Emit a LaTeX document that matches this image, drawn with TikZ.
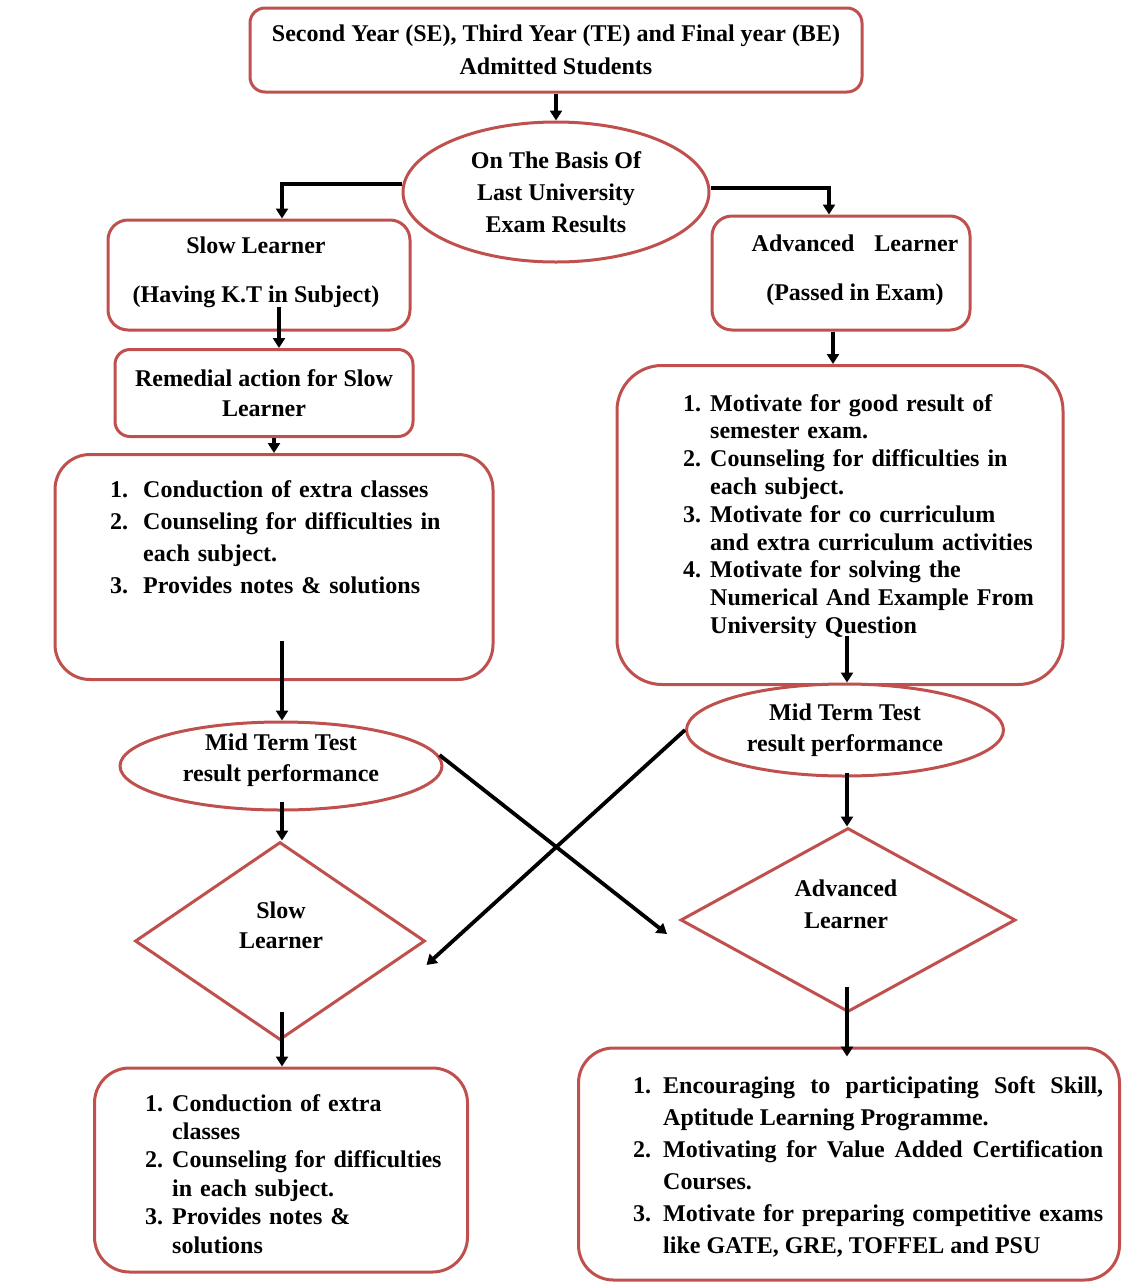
\documentclass[tikz,border=0pt]{standalone}
\usepackage{fontspec}
\setmainfont{Liberation Serif}
\usetikzlibrary{shapes.geometric,arrows.meta,calc}
\definecolor{bord}{RGB}{192,80,77}
\newcommand{\li}[3][30pt]{\par\noindent\hangindent=#1\hangafter=1\makebox[#1][l]{#2}#3\par}
\begin{document}
\begin{tikzpicture}[x=1pt,y=-1pt,
  box/.style={draw=bord, line width=3pt, rounded corners=#1, inner sep=0pt, fill=white},
  box/.default=15pt,
  ell/.style={ellipse, draw=bord, line width=3pt, inner sep=0pt, fill=white},
  dia/.style={diamond, draw=bord, line width=3pt, inner sep=0pt, fill=white},
  txt/.style={font=\fontsize{24}{32}\selectfont\bfseries, align=center, inner sep=0pt},
  lst/.style={font=\fontsize{24}{32}\selectfont\bfseries, align=left, inner sep=0pt, anchor=west},
  arr/.style={-{Triangle[length=10pt,width=12pt]}, line width=3.8pt, black}]
\useasboundingbox (0,0) rectangle (1122,1286);
\fill[white] (0,0) rectangle (1122,1286);
% column coordinates for connectors
\coordinate (cA) at (282,0);
\coordinate (cB) at (829,0);
\coordinate (cC) at (279,0);
\coordinate (cD) at (274,0);
\coordinate (cE) at (833,0);
\coordinate (cF) at (847,0);
% nodes
\node[box=15pt, minimum width=612pt, minimum height=84pt, txt, font=\fontsize{24}{33}\selectfont\bfseries] (top) at (556,50)
  {Second Year (SE), Third Year (TE) and Final year (BE)\\Admitted Students};
\node[ell, minimum width=306pt, minimum height=140pt, txt] (basis) at (556,192)
  {On The Basis Of\\Last University\\Exam Results};
\node[box=20pt, minimum width=302pt, minimum height=110pt] (slow) at (259,275) {};
\node[txt] (slowt) at (256,272) {Slow Learner\\[17pt](Having K.T in Subject)};
\node[box=20pt, minimum width=258pt, minimum height=114pt] (adv) at (841,273) {};
\node[txt] (advt) at (855,270) {Advanced\hspace{20pt}Learner\\[17pt](Passed in Exam)};
\node[box=15pt, minimum width=298pt, minimum height=87pt, txt, font=\fontsize{24}{30}\selectfont\bfseries] (rem) at (264,393)
  {Remedial action for Slow\\Learner};
\node[box=35pt, minimum width=438pt, minimum height=225pt] (llist) at (274,567) {};
\node[lst, text width=360pt] (llistt) at (110,530)
  {\li[33pt]{1.}{Conduction of extra classes}\li[33pt]{2.}{Counseling for difficulties in\linebreak each subject.}\li[33pt]{3.}{Provides notes \& solutions}};
\node[box=45pt, minimum width=446pt, minimum height=319pt] (rlist) at (840,525) {};
\node[lst, text width=400pt, font=\fontsize{24}{27.8}\selectfont\bfseries] (rlistt) at (683,511)
  {\li[27pt]{1.}{Motivate for good result of\linebreak semester exam.}\li[27pt]{2.}{Counseling for difficulties in\linebreak each subject.}\li[27pt]{3.}{Motivate for co curriculum\linebreak and extra curriculum activities}\li[27pt]{4.}{Motivate for solving the\linebreak Numerical And Example From\linebreak University Question}};
\node[ell, minimum width=322pt, minimum height=88pt] (lell) at (281,766) {};
\node[txt, font=\fontsize{24}{31}\selectfont\bfseries] (lellt) at (281,760) {Mid Term Test\\result performance};
\node[ell, minimum width=317pt, minimum height=92pt, txt, font=\fontsize{24}{31}\selectfont\bfseries] (rell) at (845,730)
  {Mid Term Test\\result performance};
\node[dia, minimum width=290pt, minimum height=198pt] (ldia) at (280,941) {};
\node[txt, font=\fontsize{24}{30}\selectfont\bfseries] (ldiat) at (281,925) {Slow\\Learner};
\node[dia, minimum width=335pt, minimum height=184pt] (rdia) at (848,920) {};
\node[txt, font=\fontsize{24}{32}\selectfont\bfseries] (rdiat) at (846,904) {Advanced\\Learner};
\node[box=35pt, minimum width=373pt, minimum height=204pt] (lbot) at (281,1170) {};
\node[lst, text width=320pt, font=\fontsize{24}{28.4}\selectfont\bfseries] (lbott) at (145,1168)
  {\li[27pt]{1.}{Conduction of extra\linebreak classes}\li[27pt]{2.}{Counseling for difficulties\linebreak in each subject.}\li[27pt]{3.}{Provides notes \&\linebreak solutions}};
\node[box=35pt, minimum width=541pt, minimum height=232pt] (rbot) at (849,1164) {};
\node[lst, align=justify, text width=470pt] (rbott) at (633,1159)
  {\li{1.}{Encouraging to participating Soft Skill,\linebreak Aptitude Learning Programme.}\li{2.}{Motivating for Value Added Certification\linebreak Courses.}\li{3.}{Motivate for preparing competitive exams\linebreak like GATE, GRE, TOFFEL and PSU}};
% connectors
\draw[arr] (top.south) -- (basis.north);
\draw[arr] ($(basis.west)+(0,-8)$) -| (slow.north -| cA);
\draw[arr] ($(basis.east)+(0,-4)$) -| (adv.north -| cB);
\draw[arr] ($(slow.south -| cC)+(0,-25)$) -- (rem.north -| cC);
\draw[arr] (rem.south -| cD) -- (llist.north -| cD);
\draw[arr] ($(llist.south -| cA)+(0,-40)$) -- (lell.north -| cA);
\draw[arr] ($(lell.south -| cA)+(0,-10)$) -- (ldia.north -| cA);
\draw[arr] ($(ldia.south -| cA)+(0,-30)$) -- (lbot.north -| cA);
\draw[arr] (adv.south -| cE) -- (rlist.north -| cE);
\draw[arr] ($(rlist.south -| cF)+(0,-50)$) -- (rell.north -| cF);
\draw[arr] ($(rell.south -| cF)+(0,-5)$) -- (rdia.north -| cF);
\draw[arr] ($(rdia.south -| cF)+(0,-27)$) -- ($(rbot.north -| cF)+(0,10)$);
\draw[arr] ($(lell.east)+(-4,-11)$) -- ($(rdia.west)+(-12,14)$);
\draw[arr] (rell.west) -- ($(ldia.east)+(0,24)$);
\end{tikzpicture}
\end{document}
